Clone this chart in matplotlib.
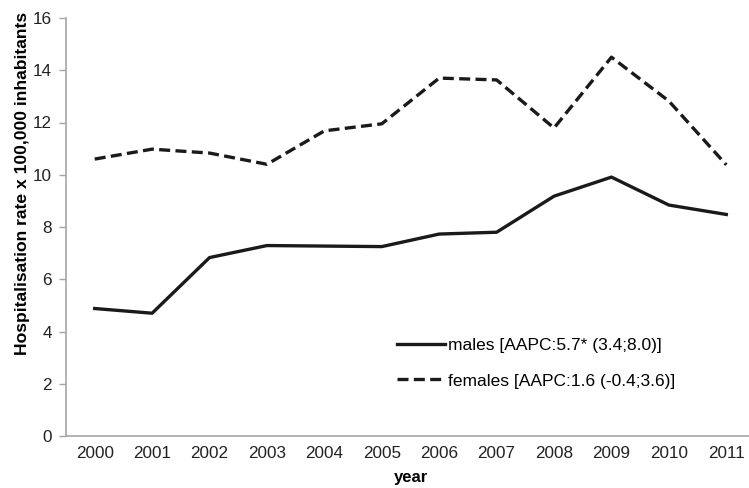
# Hospitalisation rate by sex, 2000-2011
import matplotlib
matplotlib.use("Agg")
import matplotlib.pyplot as plt
import numpy as np

years = ["2000", "2001", "2002", "2003", "2004", "2005",
         "2006", "2007", "2008", "2009", "2010", "2011"]
males = [4.88, 4.70, 6.83, 7.29, 7.27, 7.25, 7.73, 7.80, 9.18, 9.91, 8.84, 8.48]
females = [10.60, 10.98, 10.83, 10.40, 11.68, 11.95, 13.70, 13.63, 11.79, 14.50, 12.82, 10.38]

plt.rcParams['font.family'] = ['Liberation Sans', 'DejaVu Sans']

fig = plt.figure(figsize=(7.49, 4.88), dpi=100)
ax = fig.add_axes([66 / 749, 52 / 488, 689 / 749, 418 / 488])

x = np.arange(len(years))
ax.plot(x, males, color="#1a1a1a", linewidth=2.4,
        label="males [AAPC:5.7* (3.4;8.0)]")
ax.plot(x, females, color="#1a1a1a", linewidth=2.4, linestyle=(0, (3.3, 1.6)),
        label="females [AAPC:1.6 (-0.4;3.6)]")

ax.set_xlim(-0.5, 11.5)
ax.set_ylim(0, 16)
ax.set_yticks(range(0, 17, 2))
ax.set_xticks(x)
ax.set_xticklabels(years)

for side in ["top", "right"]:
    ax.spines[side].set_visible(False)
for side in ["left", "bottom"]:
    ax.spines[side].set_color("#a6a6a6")
    ax.spines[side].set_linewidth(1.2)

ax.tick_params(axis="y", colors="#a6a6a6", labelcolor="#222222", length=5,
               width=1, labelsize=12.3, pad=5)
ax.tick_params(axis="x", length=0, labelcolor="#222222", labelsize=12.3, pad=7)

ax.set_xlabel("year", fontsize=12, fontweight="bold", labelpad=7)
ax.set_ylabel("Hospitalisation rate x 100,000 inhabitants", fontsize=12.6,
              fontweight="bold")
ax.yaxis.set_label_coords(-0.052, 0.605)

ax.legend(loc="center left", bbox_to_anchor=(397 / 749, 125 / 488),
          bbox_transform=fig.transFigure, frameon=False, fontsize=12.5,
          handlelength=2.75, handletextpad=0.2, labelspacing=1.2,
          borderpad=0, borderaxespad=0)

fig.savefig("out.png", dpi=100)
